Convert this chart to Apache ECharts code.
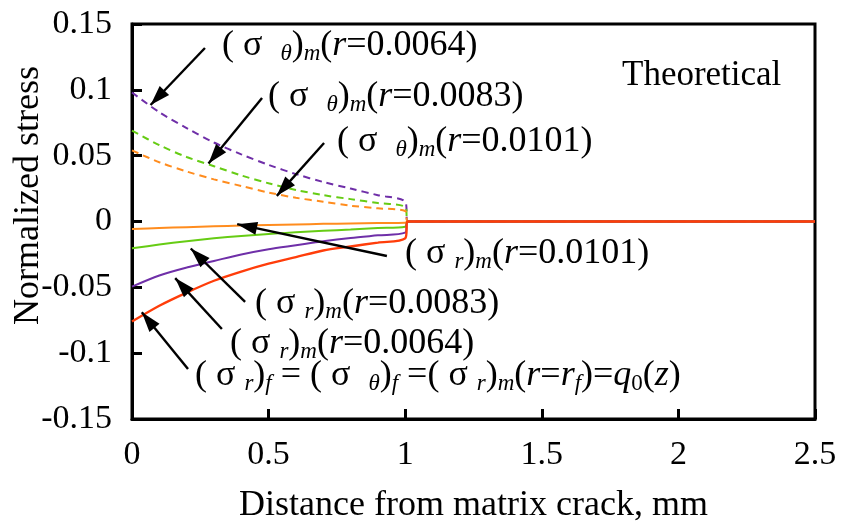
<!DOCTYPE html>
<html>
<head>
<meta charset="utf-8">
<script src="https://cdn.jsdelivr.net/npm/echarts@6/dist/echarts.min.js"></script>
<style>
html,body{margin:0;padding:0;background:#fff;}
#chart{width:841px;height:527px;}
</style>
</head>
<body>
<div id="chart"></div>
<script>
// Distance from the matrix crack (mm)
const distance = [0, 0.1, 0.2, 0.3, 0.4, 0.5, 0.6, 0.7, 0.8, 0.9, 1.0, 1.01, 2.5];

// Hoop stress in the matrix, (σθ)m
const thetaM0064 = [0.098, 0.083, 0.071, 0.060, 0.051, 0.043, 0.036, 0.030, 0.025, 0.020, 0.015, 0, 0];
const thetaM0083 = [0.069, 0.058, 0.049, 0.042, 0.035, 0.029, 0.024, 0.020, 0.017, 0.014, 0.011, 0, 0];
const thetaM0101 = [0.054, 0.045, 0.038, 0.032, 0.027, 0.022, 0.018, 0.015, 0.012, 0.010, 0.008, 0, 0];

// Radial stress in the matrix, (σr)m
const radialM0101 = [-0.0057, -0.0050, -0.0043, -0.0037, -0.0031, -0.0026, -0.0022, -0.0018, -0.0015, -0.0012, -0.0010, 0, 0];
const radialM0083 = [-0.0204, -0.0175, -0.0150, -0.0128, -0.0110, -0.0095, -0.0082, -0.0071, -0.0061, -0.0050, -0.0040, 0, 0];
const radialM0064 = [-0.0495, -0.041, -0.035, -0.030, -0.025, -0.021, -0.018, -0.015, -0.0125, -0.0105, -0.0085, 0, 0];

// Fibre / interface stress q0(z)
const interfaceQ0 = [-0.076, -0.064, -0.054, -0.045, -0.038, -0.032, -0.027, -0.022, -0.019, -0.016, -0.0128, 0, 0];

const xTickLabels = ['0', '0.5', '1', '1.5', '2', '2.5'];
const yTickLabels = ['-0.15', '-0.1', '-0.05', '0', '0.05', '0.1', '0.15'];

const X_MIN = 0, X_MAX = 2.5, X_STEP = 0.5;
const Y_MIN = -0.15, Y_MAX = 0.15, Y_STEP = 0.05;

const FONT = 'Liberation Serif';
const FS_TICK = 34;
const FS_NAME = 36;
const FS_NOTE = 36;

function pairs(ys) {
  return distance.map((x, i) => [x, ys[i]]);
}

function curve(name, ys, color, dashed, width) {
  return {
    name: name,
    type: 'line',
    data: pairs(ys),
    showSymbol: false,
    symbol: 'none',
    smooth: 0.3,
    lineStyle: {
      color: color,
      width: width || 2,
      type: dashed ? [7, 5] : 'solid'
    },
    z: 3
  };
}

// Leader arrows (tail -> head), in data coordinates
const arrowLines = [
  [[0.267, 0.1318], [0.068, 0.0885]],
  [[0.476, 0.0938], [0.280, 0.0440]],
  [[0.703, 0.0596], [0.530, 0.0195]],
  [[0.933, -0.0262], [0.385, -0.0020]],
  [[0.414, -0.0611], [0.215, -0.0205]],
  [[0.329, -0.0816], [0.158, -0.0430]],
  [[0.205, -0.1120], [0.036, -0.0690]]
];

const rich = {
  n: { fontFamily: FONT, fontSize: FS_NOTE, color: '#000', lineHeight: 40 },
  i: { fontFamily: FONT, fontSize: FS_NOTE, fontStyle: 'italic', color: '#000', lineHeight: 40 },
  s: { fontFamily: FONT, fontSize: 23, fontStyle: 'italic', color: '#000', lineHeight: 22, padding: [16, 0, 0, 0] },
  sn: { fontFamily: FONT, fontSize: 23, color: '#000', lineHeight: 22, padding: [16, 0, 0, 0] }
};

function note(left, top, text) {
  return {
    type: 'text',
    left: left,
    top: top,
    z: 20,
    style: { text: text, rich: rich, fill: '#000', fontFamily: FONT, fontSize: FS_NOTE }
  };
}

const chart = echarts.init(document.getElementById('chart'), null, { renderer: 'canvas' });

const series = [
  curve('(σθ)m r=0.0064', thetaM0064, '#6f2fa8', true),
  curve('(σθ)m r=0.0083', thetaM0083, '#66cc14', true),
  curve('(σθ)m r=0.0101', thetaM0101, '#ff8c1e', true),
  curve('(σr)m r=0.0101', radialM0101, '#ff8c1e', false),
  curve('(σr)m r=0.0083', radialM0083, '#66cc14', false),
  curve('(σr)m r=0.0064', radialM0064, '#6f2fa8', false),
  curve('q0(z)', interfaceQ0, '#ff3d0a', false, 2.4)
];

// Leader lines ride on the last series; heads are added below as polygons
series[series.length - 1].markLine = {
  silent: true,
  animation: false,
  symbol: ['none', 'none'],
  label: { show: false },
  lineStyle: { color: '#000', width: 2.4, type: 'solid' },
  emphasis: { disabled: true },
  data: arrowLines.map(a => [{ coord: a[0] }, { coord: a[1] }])
};

chart.setOption({
  animation: false,
  backgroundColor: '#fff',
  grid: {
    left: 132, right: 26, top: 24, bottom: 108,
    outerBoundsMode: 'none',
    containLabel: false,
    show: true, borderColor: '#000', borderWidth: 3, backgroundColor: 'transparent'
  },
  xAxis: {
    type: 'value',
    min: X_MIN, max: X_MAX, interval: X_STEP,
    name: 'Distance from matrix crack, mm',
    nameLocation: 'middle',
    nameGap: 69,
    nameMoveOverlap: false,
    nameTextStyle: { fontFamily: FONT, fontSize: FS_NAME, color: '#000' },
    axisLine: { show: true, onZero: false, lineStyle: { color: '#000', width: 3 } },
    axisTick: { show: true, inside: true, length: 10, lineStyle: { color: '#000', width: 3 } },
    axisLabel: {
      margin: 19, fontFamily: FONT, fontSize: FS_TICK, color: '#000',
      formatter: v => xTickLabels[Math.round((v - X_MIN) / X_STEP)]
    },
    splitLine: { show: false }
  },
  yAxis: {
    type: 'value',
    min: Y_MIN, max: Y_MAX, interval: Y_STEP,
    name: 'Normalized stress',
    nameLocation: 'middle',
    nameGap: 85,
    nameMoveOverlap: false,
    nameTextStyle: { fontFamily: FONT, fontSize: FS_NAME, color: '#000', padding: [0, 0, 0, 52] },
    axisLine: { show: true, onZero: false, lineStyle: { color: '#000', width: 3 } },
    axisTick: { show: true, inside: true, length: 10, lineStyle: { color: '#000', width: 3 } },
    axisLabel: {
      margin: 20, fontFamily: FONT, fontSize: FS_TICK, color: '#000',
      formatter: v => yTickLabels[Math.round((v - Y_MIN) / Y_STEP)]
    },
    splitLine: { show: false }
  },
  series: series
});

// Filled arrow heads at the head end of each leader line
const HEAD_LEN = 20, HEAD_HALF = 6.5;
const heads = arrowLines.map(a => {
  const p0 = chart.convertToPixel({ gridIndex: 0 }, a[0]);
  const p1 = chart.convertToPixel({ gridIndex: 0 }, a[1]);
  const dx = p1[0] - p0[0], dy = p1[1] - p0[1];
  const len = Math.sqrt(dx * dx + dy * dy);
  const ux = dx / len, uy = dy / len;
  const bx = p1[0] - ux * HEAD_LEN, by = p1[1] - uy * HEAD_LEN;
  return {
    type: 'polygon',
    z: 15,
    silent: true,
    shape: { points: [
      [p1[0], p1[1]],
      [bx - uy * HEAD_HALF, by + ux * HEAD_HALF],
      [bx + uy * HEAD_HALF, by - ux * HEAD_HALF]
    ] },
    style: { fill: '#000' }
  };
});

chart.setOption({
  graphic: [
    note(222, 26, '{n|( σ  }{s|θ}{n|)}{s|m}{n|(}{i|r}{n|=0.0064)}'),
    note(268, 77, '{n|( σ  }{s|θ}{n|)}{s|m}{n|(}{i|r}{n|=0.0083)}'),
    note(337, 122, '{n|( σ  }{s|θ}{n|)}{s|m}{n|(}{i|r}{n|=0.0101)}'),
    note(405, 234, '{n|( σ }{s|r}{n|)}{s|m}{n|(}{i|r}{n|=0.0101)}'),
    note(255, 284, '{n|( σ }{s|r}{n|)}{s|m}{n|(}{i|r}{n|=0.0083)}'),
    note(230, 324, '{n|( σ }{s|r}{n|)}{s|m}{n|(}{i|r}{n|=0.0064)}'),
    note(195, 356, '{n|( σ }{s|r}{n|)}{s|f}{n| = ( σ  }{s|θ}{n|)}{s|f}{n| =( σ }{s|r}{n|)}{s|m}{n|(}{i|r}{n|=}{i|r}{s|f}{n|)=}{i|q}{sn|0}{n|(}{i|z}{n|)}'),
    {
      type: 'text', left: 622, top: 58, z: 20,
      style: { text: 'Theoretical', fill: '#000', fontFamily: FONT, fontSize: 35 }
    }
  ].concat(heads)
});
</script>
</body>
</html>
